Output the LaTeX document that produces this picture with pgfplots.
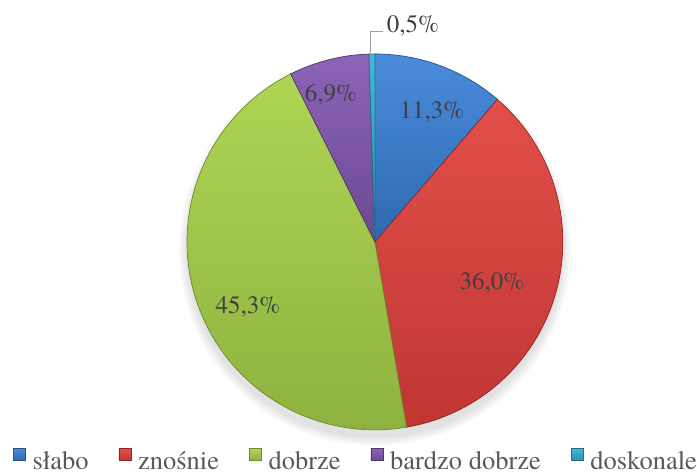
\documentclass[border=0pt]{standalone}
\usepackage{fontspec}
\setmainfont{TeX Gyre Termes}
\newfontfamily\legfont{TeX Gyre Termes}
\usepackage{pgfplots}
\usepackage{pgfplotstable}
\pgfplotsset{compat=1.18}

\definecolor{blueT}{HTML}{4A8CDB}\definecolor{blueB}{HTML}{2E69B0}\definecolor{blueD}{HTML}{25528A}
\definecolor{redT}{HTML}{E24F4B}\definecolor{redB}{HTML}{C03633}\definecolor{redD}{HTML}{8E2826}
\definecolor{greenT}{HTML}{AED553}\definecolor{greenB}{HTML}{8EB23F}\definecolor{greenD}{HTML}{6E8A30}
\definecolor{purpT}{HTML}{8C64B8}\definecolor{purpB}{HTML}{6C4893}\definecolor{purpD}{HTML}{523670}
\definecolor{cyanT}{HTML}{42B8D8}\definecolor{cyanB}{HTML}{2A90AC}\definecolor{cyanD}{HTML}{1F6E84}
\definecolor{lbltext}{HTML}{404040}
\definecolor{legtext}{HTML}{595959}

\tikzset{lbl/.style={font=\fontsize{25bp}{30bp}\selectfont, text=lbltext, anchor=base, inner sep=0pt}}
\newcommand\lf[1]{{\legfont\fontsize{26.5bp}{30bp}\selectfont #1}}

\pgfplotstableread[col sep=comma,row sep=\\]{
label,value\\
słabo,11.3\\
znośnie,36.0\\
dobrze,45.3\\
bardzo dobrze,6.9\\
doskonale,0.5\\
}\piedata

\pgfplotstablegetelem{0}{value}\of\piedata \let\vA\pgfplotsretval
\pgfplotstablegetelem{1}{value}\of\piedata \let\vB\pgfplotsretval
\pgfplotstablegetelem{2}{value}\of\piedata \let\vC\pgfplotsretval
\pgfplotstablegetelem{3}{value}\of\piedata \let\vD\pgfplotsretval
\pgfplotstablegetelem{4}{value}\of\piedata \let\vE\pgfplotsretval
\pgfplotstablegetelem{0}{label}\of\piedata \let\lA\pgfplotsretval
\pgfplotstablegetelem{1}{label}\of\piedata \let\lB\pgfplotsretval
\pgfplotstablegetelem{2}{label}\of\piedata \let\lC\pgfplotsretval
\pgfplotstablegetelem{3}{label}\of\piedata \let\lD\pgfplotsretval
\pgfplotstablegetelem{4}{label}\of\piedata \let\lE\pgfplotsretval

\pgfmathsetmacro\aA{90}
\pgfmathsetmacro\aB{\aA-3.6*\vA}
\pgfmathsetmacro\aC{\aB-3.6*\vB}
\pgfmathsetmacro\aD{\aC-3.6*\vC}
\pgfmathsetmacro\aE{\aD-3.6*\vD}
\pgfmathsetmacro\aF{\aE-3.6*\vE}

\def\cx{375}
\def\cy{231}
\def\R{188}

\pgfkeys{/pgf/number format/.cd,fixed,fixed zerofill,precision=1,use comma,assume math mode=true}

\newcommand\slice[3]{%
  \addplot[#1, domain=#3:#2, samples=90, variable=\t]
    ({\cx+\R*cos(\t)},{\cy+\R*sin(\t)}) -- (axis cs:\cx,\cy) -- cycle;}

\begin{document}
\begin{tikzpicture}
\begin{axis}[
  hide axis, scale only axis,
  width=697bp, height=473bp,
  xmin=0, xmax=697, ymin=0, ymax=473,
  clip=false,
  legend columns=5,
  legend cell align=left,
  legend style={at={(axis cs:13,3)}, anchor=south west, draw=none, fill=none,
    inner sep=0pt, font=\legfont\fontsize{26.5bp}{30bp}\selectfont, text=legtext,
    nodes={inner sep=0pt, text depth=0pt},
    /tikz/every odd column/.append style={column sep=7bp},
    /tikz/every even column/.append style={column sep=30bp}},
  legend image code/.code={\draw[#1, line width=0.5bp] (0bp,0bp) rectangle (12bp,12bp);},
]
\path (axis cs:0,0) rectangle (axis cs:697,473);
\pgfplotsinvokeforeach{0,2,4,6,8}{\fill[black,opacity=0.025] (axis cs:\cx,223) circle[radius={188bp+#1bp}];}

\slice{top color=blueT, bottom color=blueB, draw=blueD, line width=0.7bp}{\aA}{\aB}
\addlegendentry{\lf{\lA}}
\slice{top color=redT, bottom color=redB, draw=redD, line width=0.7bp}{\aB}{\aC}
\addlegendentry{\lf{\lB}}
\slice{top color=greenT, bottom color=greenB, draw=greenD, line width=0.7bp}{\aC}{\aD}
\addlegendentry{\lf{\lC}}
\slice{top color=purpT, bottom color=purpB, draw=purpD, line width=0.7bp}{\aD}{\aE}
\addlegendentry{\lf{\lD}}
\slice{top color=cyanT, bottom color=cyanB, draw=cyanD, line width=0.7bp}{\aE}{\aF}
\addlegendentry{\lf{\lE}}

\draw[gray!75, line width=1bp] (axis cs:371,418) -- (axis cs:371,441) -- (axis cs:383,441);

\node[lbl] at (axis cs:432,354) {\pgfmathprintnumber{\vA}\%};
\node[lbl] at (axis cs:492,183) {\pgfmathprintnumber{\vB}\%};
\node[lbl] at (axis cs:248,159) {\pgfmathprintnumber{\vC}\%};
\node[lbl] at (axis cs:331,371) {\pgfmathprintnumber{\vD}\%};
\node[lbl] at (axis cs:413,440) {\pgfmathprintnumber{\vE}\%};
\end{axis}
\end{tikzpicture}
\end{document}
